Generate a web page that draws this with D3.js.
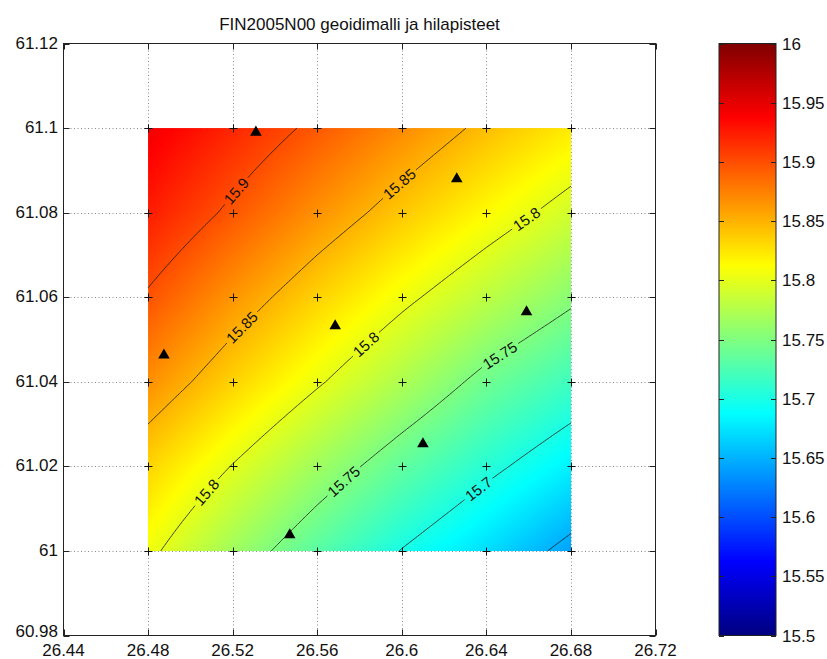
<!DOCTYPE html>
<html>
<head>
<meta charset="utf-8">
<script src="https://cdn.jsdelivr.net/npm/d3@7"></script>
<style>
  body { margin: 0; background: #fff; }
  svg { display: block; }
  text { font-family: "Liberation Sans", Arial, Helvetica, sans-serif; fill: #111; }
</style>
</head>
<body>
<svg id="chart" width="827" height="659"></svg>
<script>
// Grid node coordinates of the FIN2005N00 model (degrees)
const lonNodes = [26.48, 26.52, 26.56, 26.60, 26.64, 26.68];
const latNodes = [61.10, 61.08, 61.06, 61.04, 61.02, 61.00];

// Geoid heights N (m) at the grid nodes, one array per latitude row
const nLat6110 = [15.944, 15.919, 15.894, 15.869, 15.844, 15.822];
const nLat6108 = [15.924, 15.895, 15.866, 15.839, 15.814, 15.790];
const nLat6106 = [15.897, 15.864, 15.834, 15.806, 15.780, 15.755];
const nLat6104 = [15.867, 15.834, 15.803, 15.773, 15.742, 15.718];
const nLat6102 = [15.833, 15.799, 15.766, 15.735, 15.707, 15.681];
const nLat6100 = [15.806, 15.766, 15.731, 15.699, 15.671, 15.642];

// Reference (benchmark) points
const benchLon = [26.531, 26.626, 26.4875, 26.5685, 26.659, 26.610, 26.547];
const benchLat = [61.099, 61.088, 61.0463, 61.0532, 61.0565, 61.0253, 61.0038];

// Contour levels and where along each line its labels sit (fraction of length)
const contourLevels = [15.65, 15.70, 15.75, 15.80, 15.85, 15.90];
const labelSpots = [
  { level: 15.90, t: 0.60 },
  { level: 15.85, t: 0.31 }, { level: 15.85, t: 0.80 },
  { level: 15.80, t: 0.135 }, { level: 15.80, t: 0.53 }, { level: 15.80, t: 0.90 },
  { level: 15.75, t: 0.26 }, { level: 15.75, t: 0.78 },
  { level: 15.70, t: 0.47 }
];

// Axis ticks
const xTicks = [26.44, 26.48, 26.52, 26.56, 26.60, 26.64, 26.68, 26.72];
const yTicks = [60.98, 61.00, 61.02, 61.04, 61.06, 61.08, 61.10, 61.12];
const cbTicks = [15.5, 15.55, 15.6, 15.65, 15.7, 15.75, 15.8, 15.85, 15.9, 15.95, 16];
const titleText = "FIN2005N00 geoidimalli ja hilapisteet";

const geoidRows = [nLat6110, nLat6108, nLat6106, nLat6104, nLat6102, nLat6100];

const svg = d3.select("#chart");
const x = d3.scaleLinear().domain([26.44, 26.72]).range([63.5, 655.5]);
const y = d3.scaleLinear().domain([60.98, 61.12]).range([635.5, 43.5]);
const cDomain = [15.5, 16];

// MATLAB-style jet colour map
function jet(v) {
  const t = (v - cDomain[0]) / (cDomain[1] - cDomain[0]);
  const c = a => Math.max(0, Math.min(1, a));
  return [c(1.5 - Math.abs(4 * t - 3)), c(1.5 - Math.abs(4 * t - 2)), c(1.5 - Math.abs(4 * t - 1))]
    .map(u => Math.round(u * 255));
}

// Bilinear interpolation of the node grid
const lonStep = lonNodes[1] - lonNodes[0];
const latStep = latNodes[0] - latNodes[1];
function geoidAt(lon, lat) {
  let fi = (lon - lonNodes[0]) / lonStep;
  let fj = (latNodes[0] - lat) / latStep;
  fi = Math.max(0, Math.min(lonNodes.length - 1, fi));
  fj = Math.max(0, Math.min(latNodes.length - 1, fj));
  const i = Math.min(lonNodes.length - 2, Math.floor(fi));
  const j = Math.min(latNodes.length - 2, Math.floor(fj));
  const u = fi - i, w = fj - j;
  const g = geoidRows;
  return g[j][i] * (1 - u) * (1 - w) + g[j][i + 1] * u * (1 - w) +
         g[j + 1][i] * (1 - u) * w + g[j + 1][i + 1] * u * w;
}

// ---- dotted grid ----
const plotL = x(26.44), plotR = x(26.72), plotT = y(61.12), plotB = y(60.98);
const gridG = svg.append("g").attr("stroke", "#8a8a8a").attr("stroke-width", 1)
  .attr("stroke-dasharray", "1,2.5");
xTicks.slice(1, -1).forEach(t => gridG.append("line")
  .attr("x1", Math.round(x(t)) + 0.5).attr("x2", Math.round(x(t)) + 0.5)
  .attr("y1", plotT).attr("y2", plotB));
yTicks.slice(1, -1).forEach(t => gridG.append("line")
  .attr("y1", Math.round(y(t)) + 0.5).attr("y2", Math.round(y(t)) + 0.5)
  .attr("x1", plotL).attr("x2", plotR));

// ---- interpolated surface ----
const sx0 = x(lonNodes[0]), sx1 = x(lonNodes[lonNodes.length - 1]);
const sy0 = y(latNodes[0]), sy1 = y(latNodes[latNodes.length - 1]);
const W = Math.round(sx1 - sx0), H = Math.round(sy1 - sy0);
const canvas = document.createElement("canvas");
canvas.width = W; canvas.height = H;
const ctx = canvas.getContext("2d");
const img = ctx.createImageData(W, H);
for (let py = 0; py < H; py++) {
  for (let px = 0; px < W; px++) {
    const lon = x.invert(sx0 + px + 0.5), lat = y.invert(sy0 + py + 0.5);
    const col = jet(geoidAt(lon, lat));
    const k = (py * W + px) * 4;
    img.data[k] = col[0]; img.data[k + 1] = col[1]; img.data[k + 2] = col[2]; img.data[k + 3] = 255;
  }
}
ctx.putImageData(img, 0, 0);
svg.append("image").attr("x", sx0).attr("y", sy0).attr("width", W).attr("height", H)
  .attr("preserveAspectRatio", "none").attr("href", canvas.toDataURL());

// ---- contour lines (marching squares on a fine sampling of the surface) ----
const NS = 161;
const V = [];
for (let r = 0; r < NS; r++) {
  const row = [];
  for (let c = 0; c < NS; c++) {
    const lon = lonNodes[0] + c / (NS - 1) * (lonNodes[lonNodes.length - 1] - lonNodes[0]);
    const lat = latNodes[0] - r / (NS - 1) * (latNodes[0] - latNodes[latNodes.length - 1]);
    row.push(geoidAt(lon, lat));
  }
  V.push(row);
}
function toPx(c, r) {
  const lon = lonNodes[0] + c / (NS - 1) * (lonNodes[lonNodes.length - 1] - lonNodes[0]);
  const lat = latNodes[0] - r / (NS - 1) * (latNodes[0] - latNodes[latNodes.length - 1]);
  return [x(lon), y(lat)];
}
function isoLines(L) {
  const segs = [];
  const above = v => v >= L;
  const frac = (p, q) => {
    const f = (L - p) / (q - p);
    return Math.max(0, Math.min(1, isFinite(f) ? f : 0.5));
  };
  for (let r = 0; r < NS - 1; r++) {
    for (let c = 0; c < NS - 1; c++) {
      const a = V[r][c], b = V[r][c + 1], d = V[r + 1][c], e = V[r + 1][c + 1];
      const cr = [];
      if (above(a) !== above(b)) cr.push({ k: "h" + r + "_" + c, p: [c + frac(a, b), r] });
      if (above(b) !== above(e)) cr.push({ k: "v" + r + "_" + (c + 1), p: [c + 1, r + frac(b, e)] });
      if (above(d) !== above(e)) cr.push({ k: "h" + (r + 1) + "_" + c, p: [c + frac(d, e), r + 1] });
      if (above(a) !== above(d)) cr.push({ k: "v" + r + "_" + c, p: [c, r + frac(a, d)] });
      if (cr.length === 2) segs.push(cr);
      else if (cr.length === 4) { segs.push([cr[0], cr[1]]); segs.push([cr[2], cr[3]]); }
    }
  }
  const adj = new Map();
  segs.forEach((s, i) => s.forEach(q => {
    if (!adj.has(q.k)) adj.set(q.k, []);
    adj.get(q.k).push(i);
  }));
  const used = new Array(segs.length).fill(false);
  const lines = [];
  const starts = [...adj.keys()].filter(k => adj.get(k).length === 1);
  starts.forEach(sk => {
    let si = adj.get(sk)[0];
    if (used[si]) return;
    let curKey = sk;
    const first = segs[si].find(q => q.k === sk);
    const pts = [toPx(first.p[0], first.p[1])];
    while (si !== undefined && !used[si]) {
      used[si] = true;
      const nxt = segs[si].find(q => q.k !== curKey);
      pts.push(toPx(nxt.p[0], nxt.p[1]));
      curKey = nxt.k;
      si = adj.get(curKey).find(j => !used[j]);
    }
    // orient from the left end
    if (pts[0][0] > pts[pts.length - 1][0]) pts.reverse();
    lines.push(pts);
  });
  return lines;
}

function cumLen(pts) {
  const cum = [0];
  for (let i = 1; i < pts.length; i++)
    cum.push(cum[i - 1] + Math.hypot(pts[i][0] - pts[i - 1][0], pts[i][1] - pts[i - 1][1]));
  return cum;
}
function pointAt(pts, cum, s) {
  s = Math.max(0, Math.min(cum[cum.length - 1], s));
  let i = 1;
  while (i < cum.length - 1 && cum[i] < s) i++;
  const seg = cum[i] - cum[i - 1] || 1;
  const f = (s - cum[i - 1]) / seg;
  return [pts[i - 1][0] + f * (pts[i][0] - pts[i - 1][0]), pts[i - 1][1] + f * (pts[i][1] - pts[i - 1][1])];
}

const contourG = svg.append("g");
const labelG = svg.append("g");
const fmtLevel = d => String(+d.toFixed(2));
const labelSize = 15;

contourLevels.forEach(L => {
  const lines = isoLines(L);
  // labels go on the longest line of each level
  let longest = -1, best = 0;
  lines.forEach((pts, i) => { const l = cumLen(pts).pop(); if (l > best) { best = l; longest = i; } });
  lines.forEach((pts, li) => {
    const cum = cumLen(pts);
    const total = cum[cum.length - 1];
    const gaps = [];
    if (li === longest) labelSpots.filter(sp => Math.abs(sp.level - L) < 1e-9).forEach(sp => {
      const s = sp.t * total;
      const p = pointAt(pts, cum, s);
      const pa = pointAt(pts, cum, s - 12), pb = pointAt(pts, cum, s + 12);
      let ang = Math.atan2(pb[1] - pa[1], pb[0] - pa[0]) * 180 / Math.PI;
      if (ang > 90) ang -= 180;
      if (ang < -90) ang += 180;
      const txt = labelG.append("text")
        .attr("transform", `translate(${p[0]},${p[1]}) rotate(${ang})`)
        .attr("text-anchor", "middle").attr("dy", "0.36em")
        .attr("font-size", labelSize).text(fmtLevel(L));
      const half = txt.node().getComputedTextLength() / 2 + 3;
      gaps.push([s - half, s + half]);
    });
    // break the line where labels sit
    const ss = cum.slice();
    gaps.forEach(g => ss.push(Math.max(0, g[0]), Math.min(total, g[1])));
    ss.sort((a, b) => a - b);
    const inGap = s => gaps.some(g => s > g[0] && s < g[1]);
    const pieces = [];
    let cur = [];
    for (let i = 1; i < ss.length; i++) {
      const a = ss[i - 1], b = ss[i];
      if (b - a < 1e-9) continue;
      if (!inGap((a + b) / 2)) {
        if (!cur.length) cur.push(pointAt(pts, cum, a));
        cur.push(pointAt(pts, cum, b));
      } else if (cur.length) { pieces.push(cur); cur = []; }
    }
    if (cur.length) pieces.push(cur);
    pieces.forEach(pc => contourG.append("path")
      .attr("d", d3.line()(pc)).attr("fill", "none")
      .attr("stroke", "#1a1a1a").attr("stroke-width", 0.8));
  });
});

// ---- grid node markers (+) ----
const nodeG = svg.append("g").attr("stroke", "#111").attr("stroke-width", 1);
latNodes.forEach(la => lonNodes.forEach(lo => {
  const cx = Math.round(x(lo)) + 0.5, cy = Math.round(y(la)) + 0.5;
  nodeG.append("path").attr("d", `M${cx - 4},${cy}H${cx + 4}M${cx},${cy - 4}V${cy + 4}`);
}));

// ---- benchmark triangles ----
svg.append("g").selectAll("path").data(benchLon.map((lo, i) => [lo, benchLat[i]]))
  .join("path")
  .attr("transform", d => `translate(${x(d[0])},${y(d[1])})`)
  .attr("d", d3.symbol(d3.symbolTriangle, 58)())
  .attr("fill", "#000");

// ---- axes box, ticks and labels ----
const axG = svg.append("g");
axG.append("rect").attr("x", plotL).attr("y", plotT)
  .attr("width", plotR - plotL).attr("height", plotB - plotT)
  .attr("fill", "none").attr("stroke", "#222").attr("stroke-width", 1);
const tl = 6;
xTicks.forEach(t => {
  const px = Math.round(x(t)) + 0.5;
  axG.append("line").attr("x1", px).attr("x2", px).attr("y1", plotB).attr("y2", plotB - tl).attr("stroke", "#222");
  axG.append("line").attr("x1", px).attr("x2", px).attr("y1", plotT).attr("y2", plotT + tl).attr("stroke", "#222");
  axG.append("text").attr("x", x(t)).attr("y", 656).attr("text-anchor", "middle")
    .attr("font-size", 17).text(String(t));
});
yTicks.forEach((t, i) => {
  const py = Math.round(y(t)) + 0.5;
  axG.append("line").attr("y1", py).attr("y2", py).attr("x1", plotL).attr("x2", plotL + tl).attr("stroke", "#222");
  axG.append("line").attr("y1", py).attr("y2", py).attr("x1", plotR).attr("x2", plotR - tl).attr("stroke", "#222");
  // the lowest label is lifted a little so it clears the x labels
  axG.append("text").attr("x", 58).attr("y", y(t) - (i === 0 ? 5 : 1)).attr("dy", "0.36em")
    .attr("text-anchor", "end").attr("font-size", 17).text(String(t));
});
svg.append("text").attr("x", (plotL + plotR) / 2).attr("y", 30).attr("text-anchor", "middle")
  .attr("font-size", 17).text(titleText);

// ---- colour bar ----
const cbX = 719, cbW = 57;
const cy = d3.scaleLinear().domain(cDomain).range([plotB, plotT]);
const defs = svg.append("defs");
const grad = defs.append("linearGradient").attr("id", "jetGrad")
  .attr("x1", 0).attr("y1", 1).attr("x2", 0).attr("y2", 0);
d3.range(0, 65).forEach(i => {
  const v = cDomain[0] + i / 64 * (cDomain[1] - cDomain[0]);
  const c = jet(v);
  grad.append("stop").attr("offset", (i / 64 * 100) + "%").attr("stop-color", `rgb(${c[0]},${c[1]},${c[2]})`);
});
svg.append("rect").attr("x", cbX).attr("y", cy(cDomain[1])).attr("width", cbW)
  .attr("height", cy(cDomain[0]) - cy(cDomain[1])).attr("fill", "url(#jetGrad)")
  .attr("stroke", "#222").attr("stroke-width", 1);
cbTicks.forEach(t => {
  const py = Math.round(cy(t)) + 0.5;
  svg.append("line").attr("x1", cbX).attr("x2", cbX + 5).attr("y1", py).attr("y2", py).attr("stroke", "#222");
  svg.append("line").attr("x1", cbX + cbW).attr("x2", cbX + cbW - 5).attr("y1", py).attr("y2", py).attr("stroke", "#222");
  svg.append("text").attr("x", 782).attr("y", cy(t)).attr("dy", "0.36em")
    .attr("font-size", 17).text(String(t));
});
</script>
</body>
</html>
